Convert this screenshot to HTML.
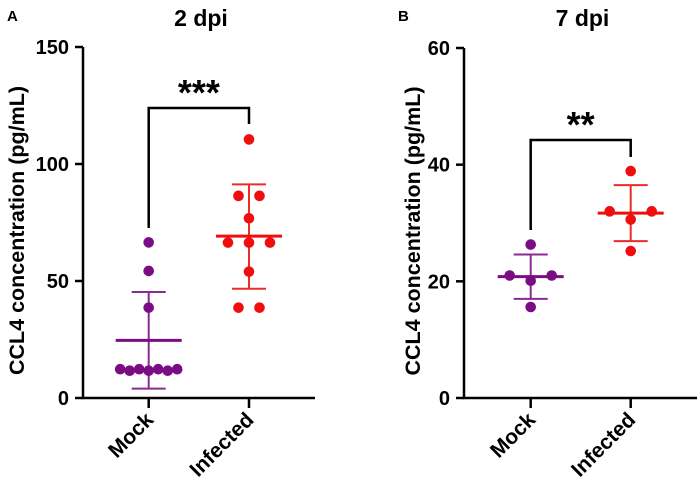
<!DOCTYPE html>
<html><head><meta charset="utf-8"><style>
body{margin:0;background:#fff;}
svg text{font-family:"Liberation Sans",Arial,sans-serif;font-weight:bold;}
</style></head><body>
<svg id="c" width="700" height="495" viewBox="0 0 700 495" xmlns="http://www.w3.org/2000/svg"></svg>
<script>
// Panel A (2 dpi)
const categories = ["Mock", "Infected"];
const mockA = [66.5, 54.3, 38.6, 12.3, 12.3, 12.3, 12.3, 12.3, 12.3, 12.3];
const infA = [110.5, 86.4, 86.4, 76.8, 66.4, 66.4, 66.4, 54, 38.6, 38.6];
const meanA = [24.6, 69.2];
const sdHiA = [45.3, 91.3];
const sdLoA = [4, 46.7];
const ticksA = [0, 50, 100, 150];
// Panel B (7 dpi)
const mockB = [26.3, 21.0, 20.1, 21.0, 15.6];
const infB = [38.9, 32.0, 30.6, 32.0, 25.2];
const meanB = [20.8, 31.7];
const sdHiB = [24.6, 36.5];
const sdLoB = [17.0, 26.9];
const ticksB = [0, 20, 40, 60];
const sigA = "***", sigB = "**";

const NS = "http://www.w3.org/2000/svg";
const svg = document.getElementById("c");
function mk(tag, attrs, parent) {
  const e = document.createElementNS(NS, tag);
  for (const k in attrs) e.setAttribute(k, attrs[k]);
  (parent || svg).appendChild(e);
  return e;
}
const colors = ["#7b0d84", "#f00d0d"];
const errColors = ["#8a2a93", "#ee2b2b"];

function panel(o) {
  const g = mk("g", {});
  
  
  const y = v => o.y0 - (v - 0) / o.max * (o.y0 - o.y1);
  const x = i => o.cx[i];
  const ax = mk("path", {d: `M${o.ax},${o.y1} V${o.y0} H${o.xEnd}`, stroke: "#000", "stroke-width": 2.5, fill: "none"}, g);
  
  
  o.ticks.forEach(t => {
    const tl = mk("line", {x1: o.ax - 8, x2: o.ax, y1: y(t), y2: y(t), stroke: "#000", "stroke-width": 2.5}, g);
    
    
    const tt = mk("text", {x: o.ax - 14, y: y(t) + 7, "text-anchor": "end", "font-size": 20}, g);
    tt.textContent = t;
    
    
  });
  categories.forEach((c, i) => {
    const tl = mk("line", {x1: x(i), x2: x(i), y1: o.y0, y2: o.y0 + 10, stroke: "#000", "stroke-width": 2.5}, g);
    
    
    const tt = mk("text", {x: x(i) + 6, y: o.y0 + 23, "text-anchor": "end", "font-size": 21, transform: `rotate(-45 ${x(i) + 6} ${o.y0 + 23})`}, g);
    tt.textContent = c;
    
    
  });
  const yt = mk("text", {x: o.ytx, y: (o.y0 + o.y1) / 2 + 8, "text-anchor": "middle", "font-size": 21.5, transform: `rotate(-90 ${o.ytx} ${(o.y0 + o.y1) / 2 + 8})`}, g);
  yt.textContent = "CCL4 concentration (pg/mL)";
  
  
  const ti = mk("text", {x: (o.ax + o.xEnd) / 2 + 2, y: 26, "text-anchor": "middle", "font-size": 23}, g);
  ti.textContent = o.title;
  
  
  const pl = mk("text", {x: o.lx, y: 21, "font-size": 15}, g);
  pl.textContent = o.letter;
  
  
  [o.mock, o.inf].forEach((vals, i) => {
    const ec = errColors[i];
    const e1 = mk("path", {d: `M${x(i)},${y(o.lo[i])} V${y(o.hi[i])} M${x(i) - 17},${y(o.hi[i])} h34 M${x(i) - 17},${y(o.lo[i])} h34`, stroke: ec, "stroke-width": 2, fill: "none"}, g);
    
    
    const groups = {};
    vals.forEach(v => { (groups[v] = groups[v] || []).push(v); });
    Object.keys(groups).forEach(k => {
      const n = groups[k].length;
      const sp = n === 7 ? 9.5 : (n === 2 ? 21 : (n === 3 ? 21 : 0));
      groups[k].forEach((v, j) => {
        let dx = (j - (n - 1) / 2) * sp;
        let dy = 0;
        if (n === 2 && o.pairSpacing) dx = (j - 0.5) * o.pairSpacing;
        if (n === 7 && j % 2 === 1) dy = 1.5;
        const d = mk("circle", {cx: x(i) + dx, cy: y(v) + dy, r: 5.3, fill: colors[i]}, g);
        
        
      });
    });
    const m = mk("line", {x1: x(i) - 33, x2: x(i) + 33, y1: y(o.mean[i]), y2: y(o.mean[i]), stroke: colors[i], "stroke-width": 3}, g);
    
    
  });
  const br = mk("path", {d: `M${x(0)},${o.bl} V${o.bt} H${x(1)} V${o.br}`, stroke: "#000", "stroke-width": 2.5, fill: "none"}, g);
  
  
  const st = mk("text", {x: (x(0) + x(1)) / 2, y: o.bt - 3, "text-anchor": "middle", "font-size": 36}, g);
  st.textContent = o.sig;
  
  
}
panel({name: "panel-a", letter: "A", lx: 7, title: "2 dpi", ax: 83, xEnd: 315, y0: 398, y1: 47, max: 150,
  cx: [148.7, 249], ticks: ticksA, mock: mockA, inf: infA, mean: meanA, hi: sdHiA, lo: sdLoA,
  ytx: 24, bt: 108, bl: 228, br: 124, sig: sigA, pairSpacing: 21});
panel({name: "panel-b", letter: "B", lx: 398, title: "7 dpi", ax: 464, xEnd: 697, y0: 398, y1: 48, max: 60,
  cx: [530.7, 630.7], ticks: ticksB, mock: mockB, inf: infB, mean: meanB, hi: sdHiB, lo: sdLoB,
  ytx: 420, bt: 140, bl: 230, br: 157, sig: sigB, pairSpacing: 42});
</script>
</body></html>
